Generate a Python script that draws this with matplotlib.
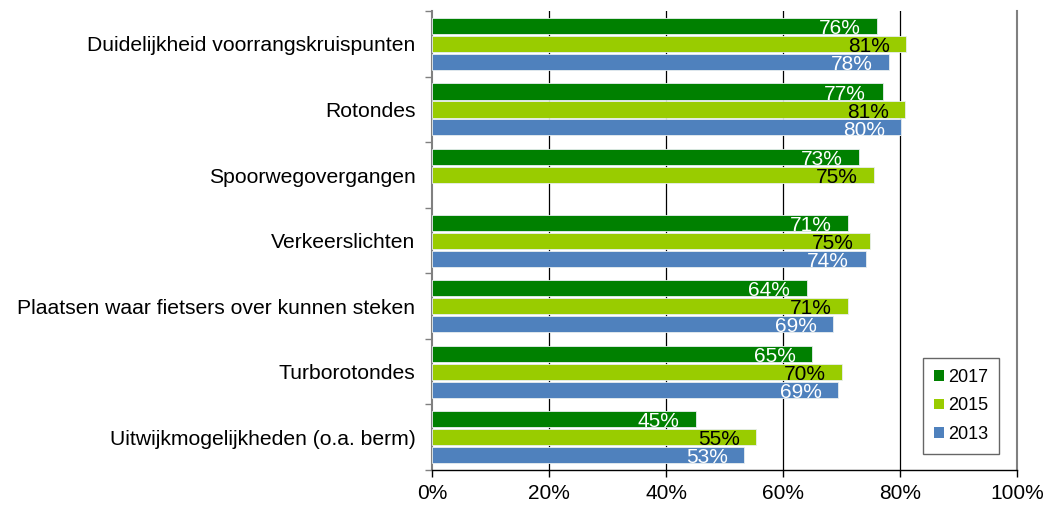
import numpy as np
import matplotlib.pyplot as plt
from matplotlib.patches import Patch

plt.rcParams['font.family'] = ['Liberation Sans', 'DejaVu Sans']

# Categories (top to bottom)
categories = ['Duidelijkheid voorrangskruispunten', 'Rotondes', 'Spoorwegovergangen',
              'Verkeerslichten', 'Plaatsen waar fietsers over kunnen steken',
              'Turborotondes', 'Uitwijkmogelijkheden (o.a. berm)']

# Bar lengths (%)
vals_2017 = [76.0, 77.0, 73.0, 71.1, 64.0, 65.0, 45.1]
vals_2015 = [81.0, 80.9, 75.5, 74.9, 71.1, 70.1, 55.4]
vals_2013 = [78.1, 80.2, np.nan, 74.1, 68.6, 69.4, 53.3]

# Printed labels
lab_2017 = ['76%', '77%', '73%', '71%', '64%', '65%', '45%']
lab_2015 = ['81%', '81%', '75%', '75%', '71%', '70%', '55%']
lab_2013 = ['78%', '80%', '', '74%', '69%', '69%', '53%']

series = [
    ('2017', vals_2017, lab_2017, '#008000', 'white'),
    ('2015', vals_2015, lab_2015, '#99cc00', 'black'),
    ('2013', vals_2013, lab_2013, '#4f81bd', 'white'),
]

fig = plt.figure(figsize=(10.54, 5.07), dpi=100)
ax = fig.add_axes([0.41, 0.073, 0.555, 0.905])

y = np.arange(len(categories))
offsets = [-0.274, 0.0, 0.274]
h = 0.245

for (name, vals, labs, col, tcol), off in zip(series, offsets):
    vals = np.array(vals, dtype=float)
    mask = ~np.isnan(vals)
    ax.barh(y[mask] + off, vals[mask], height=h, color=col,
            edgecolor='#e8eef0', linewidth=0.6, label=name, zorder=3)
    for yi, v, lab in zip(y + off, vals, labs):
        if np.isnan(v) or not lab:
            continue
        ax.text(v - 2.8, yi + 0.04, lab, ha='right', va='center',
                color=tcol, fontsize=15, zorder=4)

ax.set_xlim(0, 100)
ax.set_ylim(len(categories) - 0.5, -0.5)

ax.set_xticks(np.arange(0, 101, 20))
ax.set_xticklabels([f'{t}%' for t in range(0, 101, 20)], fontsize=15)
ax.tick_params(axis='x', length=5, width=1, color='black', pad=5)

# category separators as ticks, labels at centers
ax.set_yticks(np.arange(-0.5, len(categories), 1.0))
ax.set_yticklabels([])
ax.set_yticks(y, minor=True)
ax.set_yticklabels(categories, minor=True, fontsize=15.2)
ax.tick_params(axis='y', which='major', length=5, width=1, color='#808080')
ax.tick_params(axis='y', which='minor', length=0, pad=12)

for xv in [20, 40, 60, 80]:
    ax.axvline(xv, color='black', linewidth=0.9, zorder=1)

ax.spines['top'].set_visible(False)
ax.spines['right'].set_color('#808080')
ax.spines['right'].set_linewidth(1.5)
ax.spines['left'].set_color('#808080')
ax.spines['left'].set_linewidth(1.5)
ax.spines['bottom'].set_color('black')
ax.spines['bottom'].set_linewidth(1)

handles = [Patch(facecolor=c, edgecolor='none', label=n) for n, _, _, c, _ in series]
leg = ax.legend(handles=handles, loc='lower right', bbox_to_anchor=(0.969, 0.035),
                fontsize=13, frameon=True, fancybox=False, edgecolor='#404040',
                handlelength=0.55, handleheight=0.55, handletextpad=0.25,
                labelspacing=0.65, borderpad=0.6, borderaxespad=0)
leg.get_frame().set_linewidth(1)

fig.savefig('out.png', dpi=100)
